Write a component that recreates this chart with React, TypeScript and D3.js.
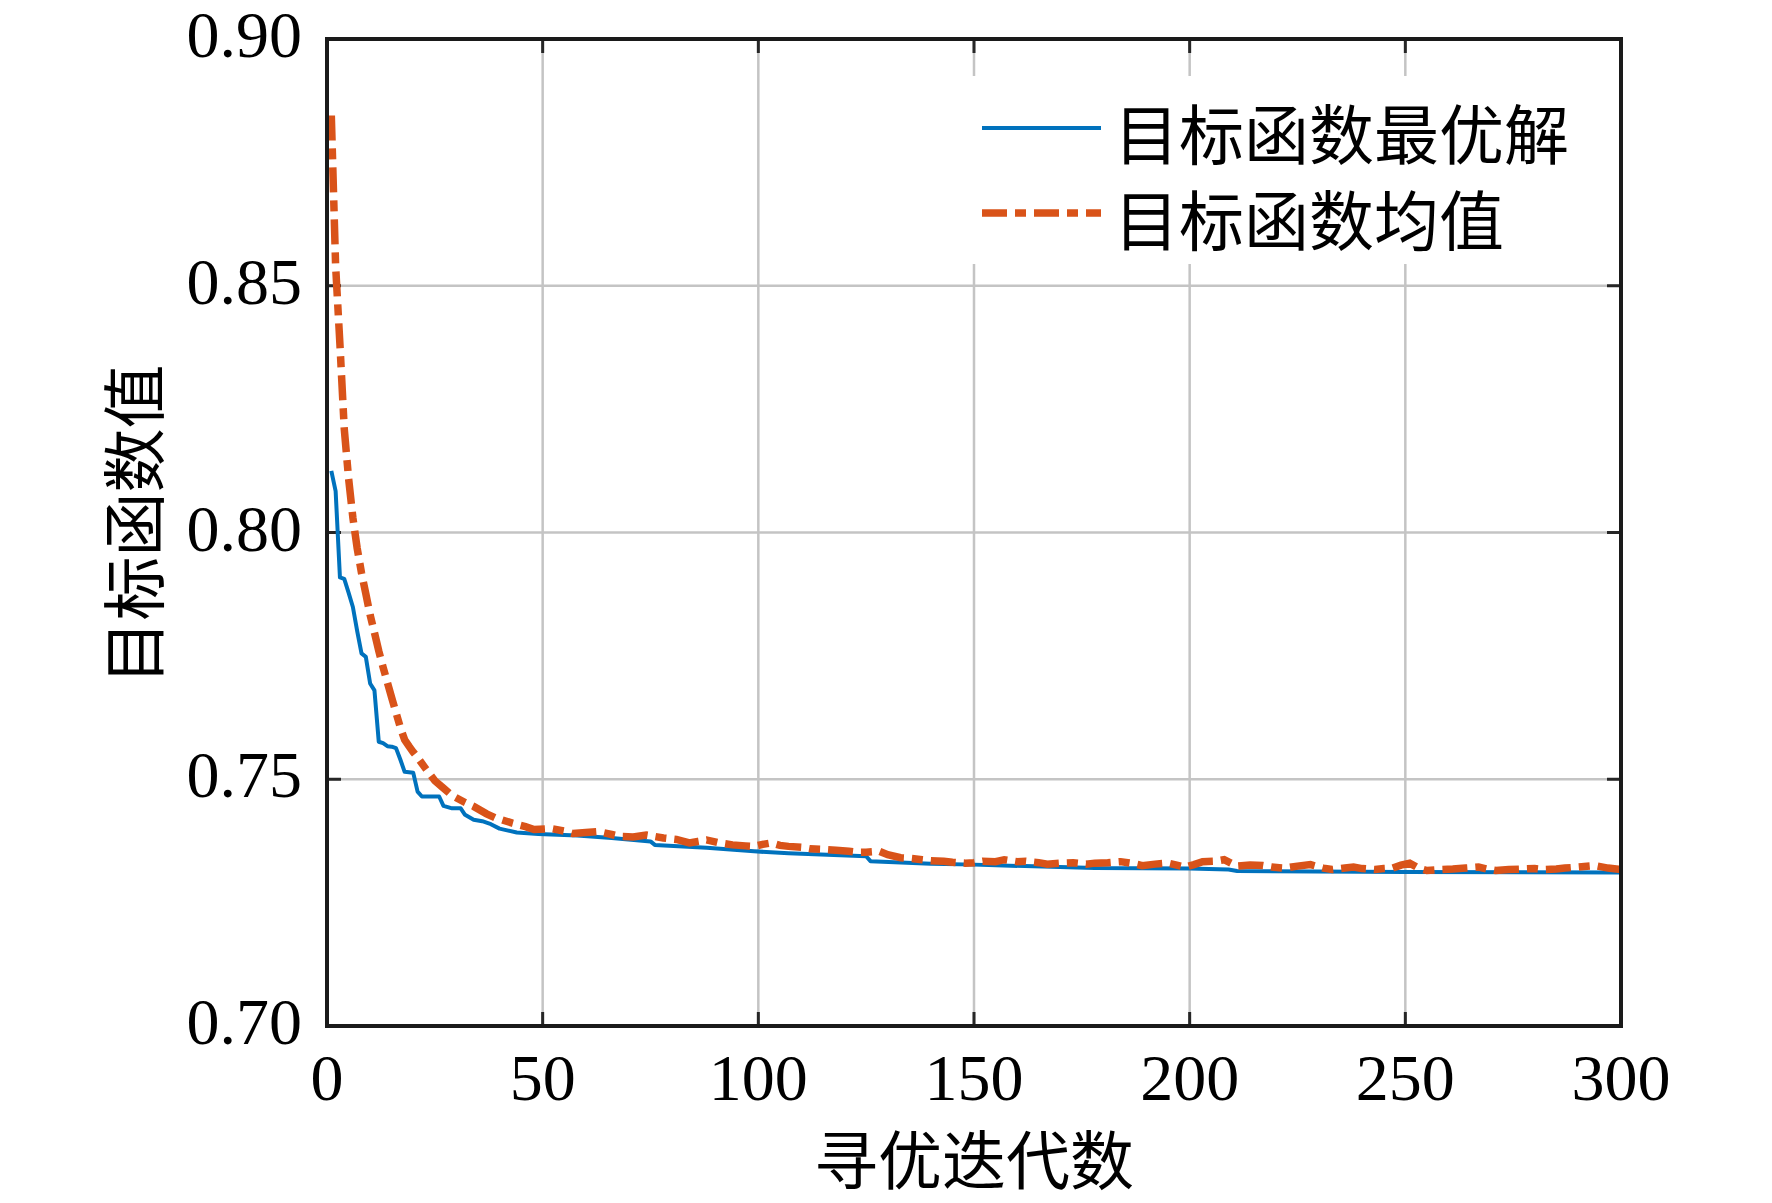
import React from "react";
import * as d3 from "d3";

// 寻优迭代数 (iteration) and objective values
const bestIter = [1, 2, 3, 4, 5, 6, 7, 8, 9, 10, 11, 12, 13, 14, 15, 16, 17, 18, 19, 20, 21, 22, 26, 27, 29, 31, 32, 34, 36, 38, 40, 41, 44, 49, 58, 66, 75, 76, 88, 99, 107, 125, 126, 140, 150, 178, 200, 209, 211, 250, 300];
const bestVal = [0.8125, 0.8084, 0.7909, 0.7906, 0.7878, 0.7849, 0.78, 0.7755, 0.7748, 0.7694, 0.768, 0.7576, 0.7573, 0.7567, 0.7566, 0.7563, 0.754, 0.7515, 0.7514, 0.7513, 0.7475, 0.7465, 0.7465, 0.7446, 0.7441, 0.7441, 0.7428, 0.7418, 0.7415, 0.7409, 0.74, 0.7398, 0.7392, 0.7389, 0.7386, 0.7381, 0.7374, 0.7367, 0.7361, 0.7354, 0.735, 0.7344, 0.7334, 0.7329, 0.7327, 0.732, 0.7319, 0.7317, 0.7314, 0.7312, 0.7311];

const meanIter = [1, 2, 3, 4, 5, 6, 7, 8, 9, 10, 11, 12, 13, 14, 15, 16, 17, 18, 19, 20, 21, 23, 25, 27, 29, 32, 34, 37, 39, 43, 46, 48, 52, 55, 57, 60, 63, 66, 68, 71, 74, 76, 78, 81, 84, 86, 88, 91, 94, 97, 99, 101, 103, 105, 107, 110, 112, 115, 118, 121, 123, 125, 128, 130, 133, 135, 138, 140, 143, 145, 148, 150, 152, 155, 157, 160, 162, 165, 167, 170, 173, 176, 178, 181, 184, 187, 189, 192, 195, 197, 199, 201, 203, 206, 208, 211, 214, 217, 219, 222, 225, 228, 231, 233, 236, 238, 240, 243, 245, 247, 249, 251, 253, 255, 258, 261, 264, 267, 269, 271, 274, 277, 280, 282, 285, 287, 290, 294, 297, 300];
const meanVal = [0.8845, 0.854, 0.8381, 0.821, 0.811, 0.803, 0.7968, 0.7918, 0.7876, 0.7833, 0.7797, 0.776, 0.7727, 0.7696, 0.7665, 0.7635, 0.7605, 0.758, 0.7567, 0.7555, 0.7544, 0.752, 0.7497, 0.7482, 0.7467, 0.7453, 0.7445, 0.743, 0.7422, 0.7411, 0.7404, 0.7398, 0.74, 0.7395, 0.739, 0.7392, 0.7394, 0.7388, 0.7384, 0.7383, 0.7387, 0.7384, 0.7381, 0.7378, 0.7371, 0.7374, 0.7377, 0.7371, 0.7367, 0.7365, 0.7364, 0.7368, 0.7371, 0.7366, 0.7364, 0.7362, 0.7359, 0.7358, 0.7356, 0.7354, 0.7352, 0.7352, 0.7354, 0.7347, 0.7341, 0.734, 0.7337, 0.7335, 0.7334, 0.7332, 0.733, 0.7331, 0.7334, 0.7333, 0.7337, 0.7333, 0.7334, 0.7331, 0.7328, 0.733, 0.7331, 0.7328, 0.733, 0.7331, 0.7333, 0.7329, 0.7325, 0.7328, 0.733, 0.7326, 0.7322, 0.7327, 0.7333, 0.7334, 0.7337, 0.7324, 0.7326, 0.7325, 0.7322, 0.732, 0.7324, 0.7327, 0.732, 0.7317, 0.732, 0.7322, 0.7319, 0.7317, 0.7319, 0.732, 0.7326, 0.733, 0.732, 0.7315, 0.7317, 0.7318, 0.732, 0.7322, 0.7318, 0.7315, 0.7317, 0.7318, 0.7319, 0.7317, 0.7318, 0.732, 0.7322, 0.7325, 0.732, 0.7317];

const xTicks = [0, 50, 100, 150, 200, 250, 300];
const yTicks = [0.7, 0.75, 0.8, 0.85, 0.9];
const yTickLabels = ["0.70", "0.75", "0.80", "0.85", "0.90"];
const legendLabels = ["目标函数最优解", "目标函数均值"];

const W = 1772;
const H = 1203;
const plot = { left: 327, right: 1621, top: 39, bottom: 1026 };
const blue = "#0072BD";
const orange = "#D95319";
const numFont = "'Liberation Serif', 'Times New Roman', serif";
const cjkFont = "'Noto Sans CJK SC', sans-serif";

const App: React.FC = () => {
  const x = d3.scaleLinear().domain([0, 300]).range([plot.left, plot.right]);
  const y = d3.scaleLinear().domain([0.7, 0.9]).range([plot.bottom, plot.top]);

  const line = d3
    .line<[number, number]>()
    .x((d) => x(d[0]))
    .y((d) => y(d[1]));

  const bestPath = line(bestIter.map((it, i) => [it, bestVal[i]]));
  const meanPath = line(meanIter.map((it, i) => [it, meanVal[i]]));
  const tick = 14;
  const dash = "25 8 11 8";

  return (
    <svg
      width={W}
      height={H}
      viewBox={`0 0 ${W} ${H}`}
      style={{ position: "absolute", left: 0, top: 0, background: "#fff" }}
    >
      <defs>
        <clipPath id="plotClip">
          <rect x={plot.left} y={plot.top} width={plot.right - plot.left} height={plot.bottom - plot.top} />
        </clipPath>
      </defs>
      <rect x={0} y={0} width={W} height={H} fill="#fff" />

      {/* grid */}
      {xTicks.slice(1, -1).map((t) => (
        <line key={"gx" + t} x1={x(t)} x2={x(t)} y1={plot.top} y2={plot.bottom} stroke="#c4c4c4" strokeWidth={2.5} />
      ))}
      {yTicks.slice(1, -1).map((t) => (
        <line key={"gy" + t} x1={plot.left} x2={plot.right} y1={y(t)} y2={y(t)} stroke="#c4c4c4" strokeWidth={2.5} />
      ))}

      {/* legend background hides grid */}
      <rect x={965} y={76} width={640} height={188} fill="#fff" />

      {/* ticks, inside on all four sides */}
      {xTicks.slice(1, -1).map((t) => (
        <g key={"tx" + t} stroke="#262626" strokeWidth={3}>
          <line x1={x(t)} x2={x(t)} y1={plot.bottom} y2={plot.bottom - tick} />
          <line x1={x(t)} x2={x(t)} y1={plot.top} y2={plot.top + tick} />
        </g>
      ))}
      {yTicks.slice(1, -1).map((t) => (
        <g key={"ty" + t} stroke="#262626" strokeWidth={3}>
          <line x1={plot.left} x2={plot.left + tick} y1={y(t)} y2={y(t)} />
          <line x1={plot.right} x2={plot.right - tick} y1={y(t)} y2={y(t)} />
        </g>
      ))}

      {/* series */}
      <g clipPath="url(#plotClip)">
        <path d={bestPath ?? ""} fill="none" stroke={blue} strokeWidth={4} strokeLinejoin="round" />
        <path d={meanPath ?? ""} fill="none" stroke={orange} strokeWidth={7.5} strokeDasharray={dash} />
      </g>

      {/* axes box */}
      <rect
        x={plot.left}
        y={plot.top}
        width={plot.right - plot.left}
        height={plot.bottom - plot.top}
        fill="none"
        stroke="#1a1a1a"
        strokeWidth={4}
      />

      {/* tick labels */}
      {xTicks.map((t) => (
        <text key={"lx" + t} x={x(t)} y={1100} textAnchor="middle" fontFamily={numFont} fontSize={66} fill="#000">
          {t}
        </text>
      ))}
      {yTicks.map((t, i) => (
        <text key={"ly" + t} x={302} y={y(t) + 18} textAnchor="end" fontFamily={numFont} fontSize={66} fill="#000">
          {yTickLabels[i]}
        </text>
      ))}

      {/* axis titles */}
      <text x={(plot.left + plot.right) / 2} y={1156} textAnchor="middle" dominantBaseline="central" fontFamily={cjkFont} fontSize={64} fill="#000">
        寻优迭代数
      </text>
      <text
        transform={`translate(130,${(plot.top + plot.bottom) / 2 - 8}) rotate(-90)`}
        textAnchor="middle"
        dominantBaseline="central"
        fontFamily={cjkFont}
        fontSize={64}
        fill="#000"
      >
        目标函数值
      </text>

      {/* legend */}
      <line x1={982} x2={1101} y1={128} y2={128} stroke={blue} strokeWidth={4} />
      <line x1={982} x2={1101} y1={213} y2={213} stroke={orange} strokeWidth={7.5} strokeDasharray={dash} />
      <text x={1114} y={131} dominantBaseline="central" fontFamily={cjkFont} fontSize={65} fill="#000">
        {legendLabels[0]}
      </text>
      <text x={1114} y={217} dominantBaseline="central" fontFamily={cjkFont} fontSize={65} fill="#000">
        {legendLabels[1]}
      </text>
    </svg>
  );
};

export default App;
